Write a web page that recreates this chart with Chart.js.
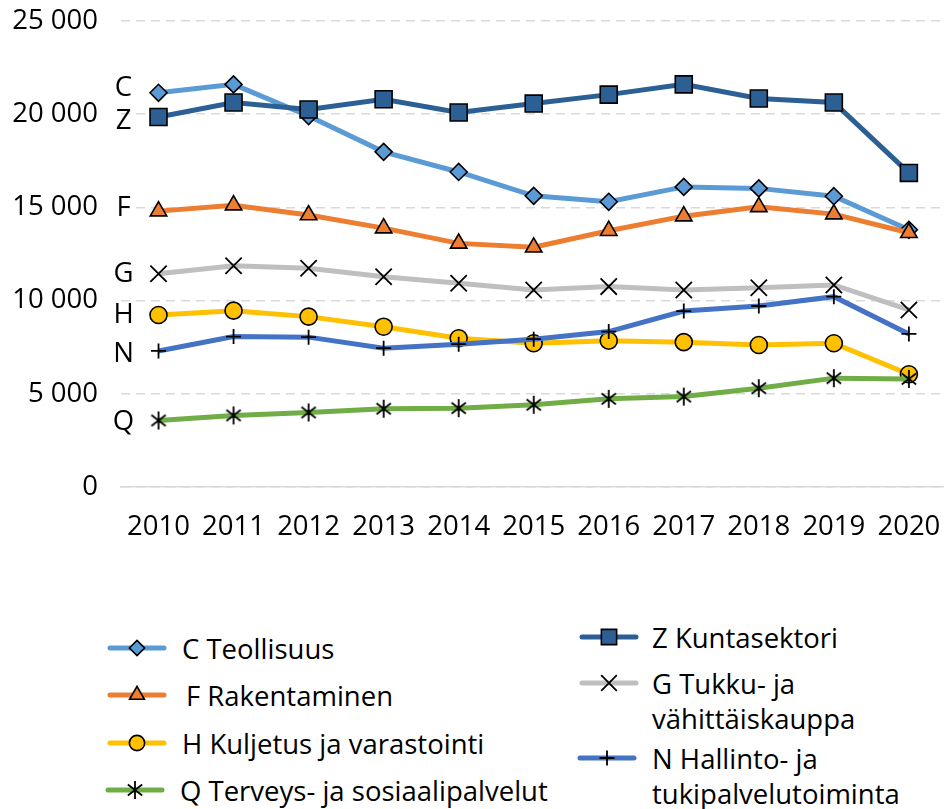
<!DOCTYPE html>
<html>
<head>
<meta charset="utf-8">
<script src="https://cdn.jsdelivr.net/npm/chart.js@4.4.1/dist/chart.umd.min.js"></script>
<style>
  html, body { margin: 0; padding: 0; background: #fff; width: 944px; height: 809px; overflow: hidden; }
  #wrap { position: absolute; left: 0; top: 0; width: 960px; height: 570px; }
  .leg { position: absolute; font-family: "Open Sans", sans-serif; font-size: 27.5px; color: #000; line-height: 35px; white-space: nowrap; }
  .ico { position: absolute; }
</style>
</head>
<body>
<div id="wrap"><canvas id="grafico" width="960" height="570"></canvas></div>
<div id="leyenda"></div>
<script>
/* ===================== DATOS ===================== */
const vuosi = ["2010", "2011", "2012", "2013", "2014", "2015", "2016", "2017", "2018", "2019", "2020"];

const teollisuus   = [21150, 21600, 19900, 17980, 16900, 15620, 15300, 16100, 16020, 15600, 13800];
const kuntasektori = [19850, 20630, 20250, 20800, 20090, 20570, 21050, 21600, 20840, 20630, 16850];
const rakentaminen = [14800, 15120, 14590, 13890, 13070, 12860, 13750, 14530, 15030, 14640, 13640];
const kauppa       = [11440, 11870, 11730, 11280, 10930, 10570, 10750, 10570, 10690, 10840, 9500];
const kuljetus     = [9230, 9460, 9140, 8600, 7980, 7710, 7850, 7770, 7620, 7710, 6050];
const hallinto     = [7300, 8070, 8040, 7450, 7660, 7930, 8340, 9440, 9710, 10210, 8210];
const terveys      = [3570, 3840, 4000, 4200, 4230, 4410, 4730, 4850, 5300, 5840, 5800];

const yTicks = [0, 5000, 10000, 15000, 20000, 25000];

const FONT = '"Open Sans", sans-serif';
const TAM = 27.5;

/* ===================== MARCADOR ESTRELLA (6 puntas) ===================== */
function crearEstrella(r) {
  const c = document.createElement("canvas");
  const s = Math.ceil(r * 2 + 4);
  c.width = s;
  c.height = s;
  const ctx = c.getContext("2d");
  const m = s / 2;
  const dx = r * Math.sin(Math.PI / 3.4);
  const dy = r * Math.cos(Math.PI / 3.4);
  ctx.strokeStyle = "#000";
  ctx.lineWidth = 1.8;
  ctx.beginPath();
  ctx.moveTo(m, m - r);
  ctx.lineTo(m, m + r);
  ctx.moveTo(m - dx, m - dy);
  ctx.lineTo(m + dx, m + dy);
  ctx.moveTo(m + dx, m - dy);
  ctx.lineTo(m - dx, m + dy);
  ctx.stroke();
  return c;
}
const estrella = crearEstrella(9);

/* ===================== SERIES ===================== */
function serie(label, data, color, estilo, radio, relleno) {
  return {
    label,
    data,
    borderColor: color,
    backgroundColor: color,
    borderWidth: 5,
    pointStyle: estilo,
    pointRadius: radio,
    pointBackgroundColor: relleno ? color : "transparent",
    pointBorderColor: "#000",
    pointBorderWidth: relleno ? 1.6 : 1.8,
    tension: 0,
  };
}

// primero = dibujado encima
const datasets = [
  serie("Q Terveys- ja sosiaalipalvelut", terveys, "#70AD47", estrella, 9, false),
  serie("Z Kuntasektori", kuntasektori, "#2C6095", "rect", 12, true),
  serie("F Rakentaminen", rakentaminen, "#ED7D31", "triangle", 9.5, true),
  serie("C Teollisuus", teollisuus, "#5B9BD5", "rectRot", 8.5, true),
  serie("N Hallinto- ja tukipalvelutoiminta", hallinto, "#4472C4", "cross", 7.5, false),
  serie("G Tukku- ja vähittäiskauppa", kauppa, "#BFBFBF", "crossRot", 11.5, false),
  serie("H Kuljetus ja varastointi", kuljetus, "#FFC000", "circle", 8.5, true),
];

/* ===================== LETRAS JUNTO A LAS LÍNEAS ===================== */
const letras = {
  id: "letras",
  afterDatasetsDraw(chart) {
    const { ctx, scales } = chart;
    const ajuste = { C: -5, Z: 4, F: -3, G: 0, H: 0, N: 3, Q: 2 };
    const x = scales.x.getPixelForValue(0) - 35;
    ctx.save();
    ctx.font = `${TAM}px ${FONT}`;
    ctx.fillStyle = "#000";
    ctx.textAlign = "center";
    ctx.textBaseline = "middle";
    chart.data.datasets.forEach((ds) => {
      const l = ds.label.charAt(0);
      const y = scales.y.getPixelForValue(ds.data[0]) + (ajuste[l] || 0);
      ctx.fillText(l, x, y);
    });
    ctx.restore();
  },
};

/* ===================== GRÁFICO ===================== */
new Chart(document.getElementById("grafico"), {
  type: "line",
  data: { labels: vuosi, datasets },
  plugins: [letras],
  options: {
    responsive: false,
    animation: false,
    layout: { padding: { top: 21, right: 0, bottom: 0, left: 0 } },
    plugins: { legend: { display: false }, tooltip: { enabled: false } },
    scales: {
      x: {
        offset: true,
        grid: { display: false, drawTicks: false },
        border: { display: true, color: "#D9D9D9", width: 1.5 },
        ticks: { color: "#000", font: { family: FONT, size: TAM }, padding: 24, maxRotation: 0 },
        afterFit: (s) => {
          s.height = 83;
          s.paddingLeft = 0;
          s.paddingRight = 0;
        },
      },
      y: {
        min: 0,
        max: 25000,
        afterBuildTicks: (s) => { s.ticks = yTicks.map((v) => ({ value: v })); },
        grid: { color: "#D9D9D9", lineWidth: 1.5, drawTicks: false },
        border: { display: false, dash: [9, 6] },
        ticks: {
          color: "#000",
          font: { family: FONT, size: TAM },
          padding: 23,
          callback: (v) => String(v).replace(/\B(?=(\d{3})+(?!\d))/g, " "),
        },
        afterFit: (s) => {
          s.width = 121;
          s.paddingTop = 0;
          s.paddingBottom = 0;
        },
      },
    },
  },
});

/* ===================== LEYENDA ===================== */
const leyenda = [
  { i: 3, lx: 108, tx: 182, cy: 648, lineas: ["C Teollisuus"] },
  { i: 2, lx: 108, tx: 186, cy: 695, lineas: ["F Rakentaminen"] },
  { i: 6, lx: 108, tx: 182, cy: 743, lineas: ["H Kuljetus ja varastointi"] },
  { i: 0, lx: 106, tx: 180, cy: 790, lineas: ["Q Terveys- ja sosiaalipalvelut"] },
  { i: 1, lx: 580, tx: 652, cy: 637, lineas: ["Z Kuntasektori"] },
  { i: 5, lx: 580, tx: 652, cy: 683, lineas: ["G Tukku- ja", "vähittäiskauppa"] },
  { i: 4, lx: 578, tx: 652, cy: 758, lineas: ["N Hallinto- ja", "tukipalvelutoiminta"] },
];

const cont = document.getElementById("leyenda");
leyenda.forEach((it) => {
  const ds = datasets[it.i];
  const c = document.createElement("canvas");
  c.width = 62;
  c.height = 30;
  c.className = "ico";
  c.style.left = it.lx - 2 + "px";
  c.style.top = it.cy - 15 + "px";
  const ctx = c.getContext("2d");
  ctx.strokeStyle = ds.borderColor;
  ctx.lineWidth = 5;
  ctx.lineCap = "round";
  ctx.beginPath();
  ctx.moveTo(4, 15);
  ctx.lineTo(58, 15);
  ctx.stroke();
  ctx.fillStyle = ds.pointBackgroundColor;
  ctx.strokeStyle = "#000";
  ctx.lineWidth = ds.pointBorderWidth;
  Chart.helpers.drawPoint(ctx, {
    pointStyle: ds.pointStyle,
    radius: ds.pointRadius * 0.9,
    rotation: 0,
    borderWidth: ds.pointBorderWidth,
  }, 31, 15);
  cont.appendChild(c);

  const t = document.createElement("div");
  t.className = "leg";
  t.style.left = it.tx + "px";
  t.style.top = it.cy - 17.5 + "px";
  t.innerHTML = it.lineas.join("<br>");
  cont.appendChild(t);
});
</script>
</body>
</html>
